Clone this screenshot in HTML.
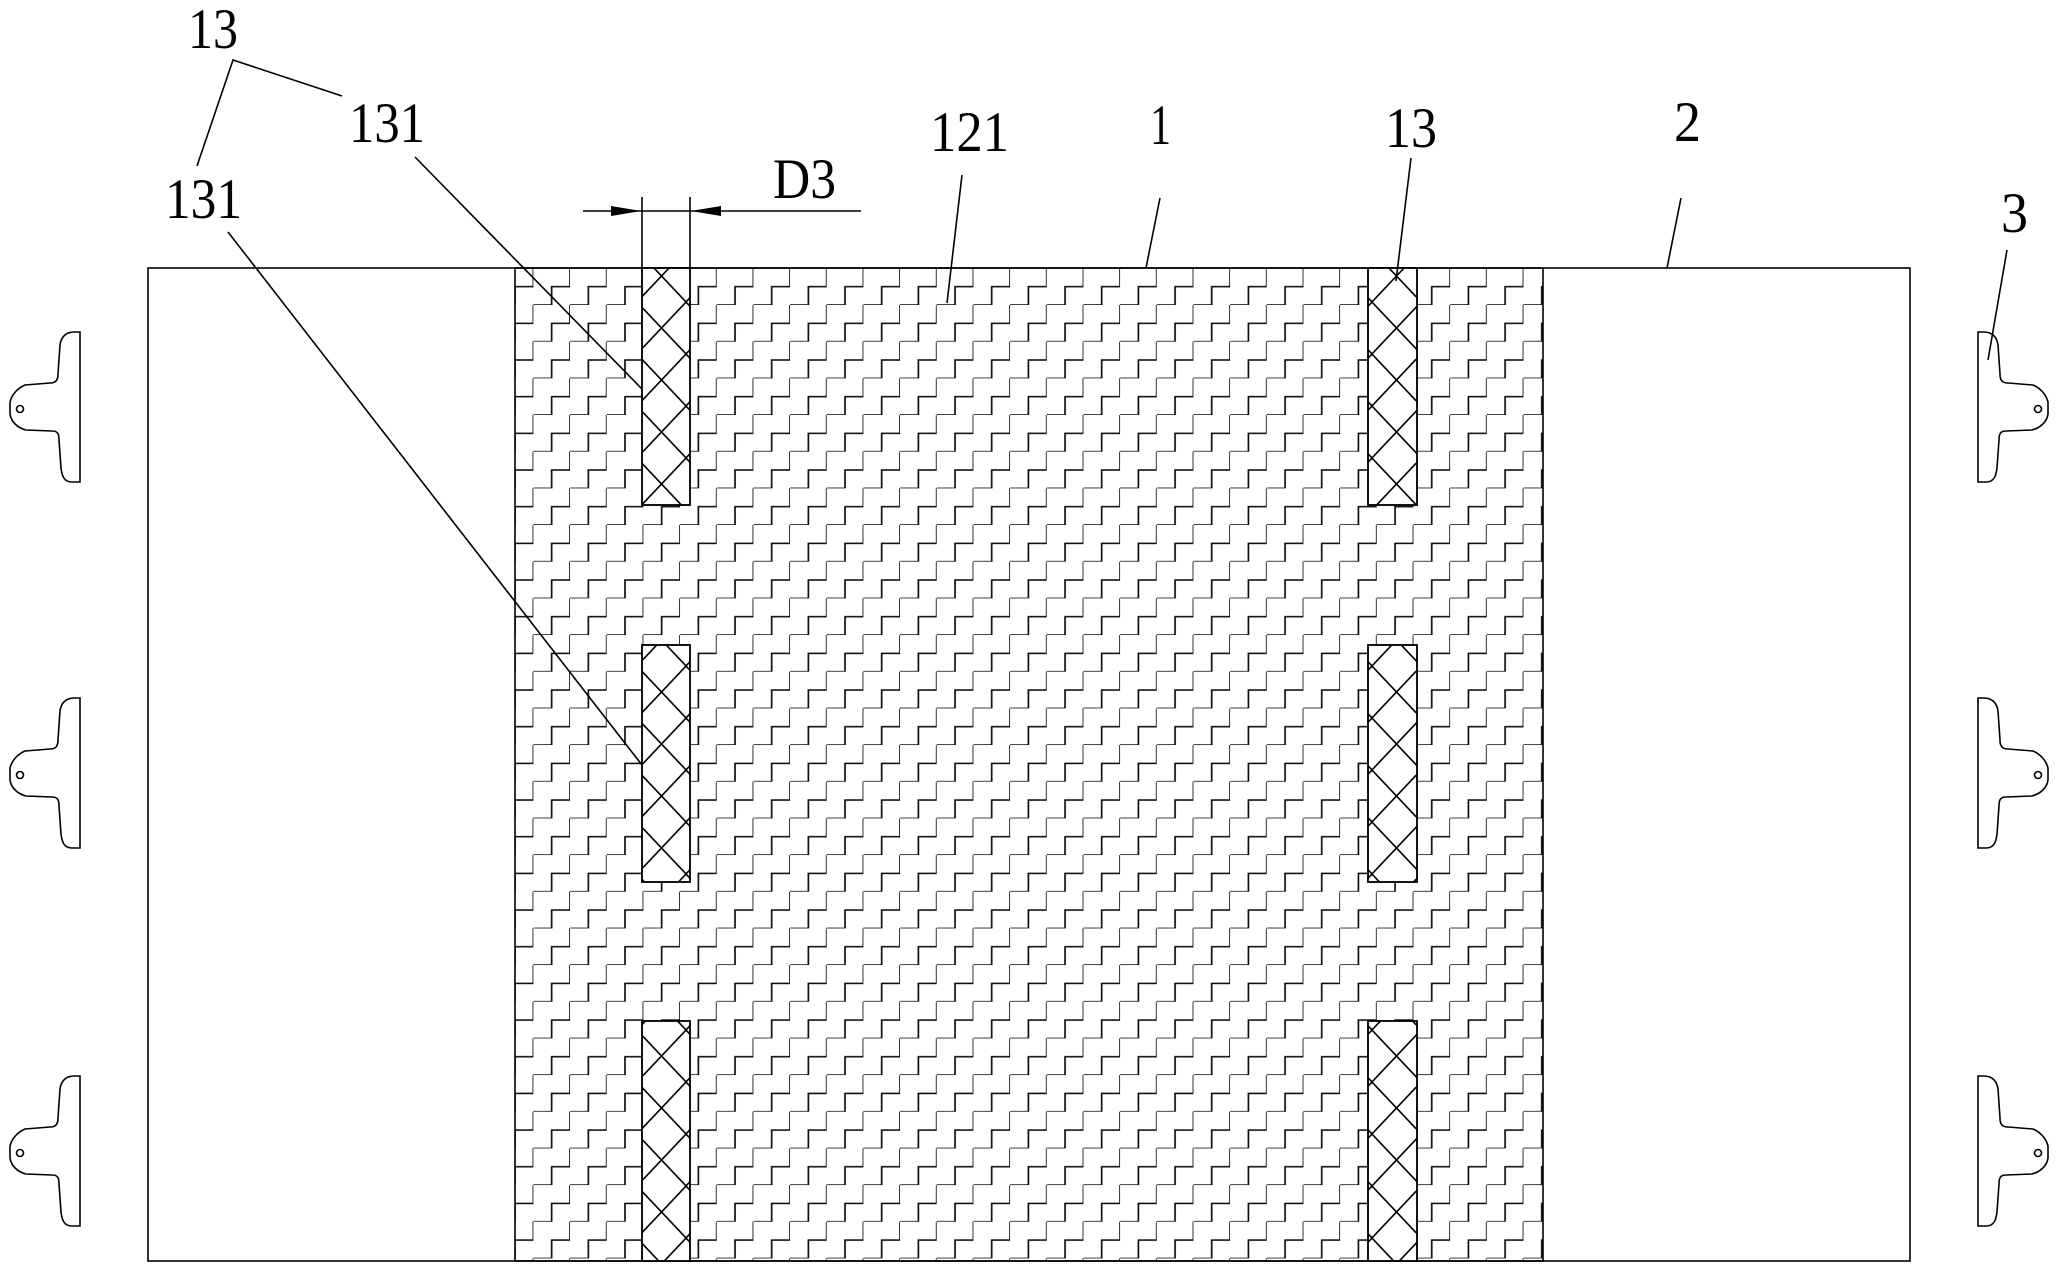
<!DOCTYPE html>
<html><head><meta charset="utf-8"><style>
html,body{margin:0;padding:0;background:#fff;}
svg{display:block;}
text{font-family:"Liberation Serif",serif;font-size:57px;fill:#000;}
</style></head><body>
<svg width="2062" height="1266" viewBox="0 0 2062 1266" xmlns="http://www.w3.org/2000/svg">
<defs>
<pattern id="st" patternUnits="userSpaceOnUse" x="496.67" y="268.33" width="36.67" height="36.67">
<path d="M0,36.67 H18.33 V18.33 H36.67 V0" fill="none" stroke="#000" stroke-width="1.6"/>
</pattern>
<pattern id="xh" patternUnits="userSpaceOnUse" x="0" y="250" width="49" height="52">
<path d="M-1,-1 L50,53 M50,-1 L-1,53" fill="none" stroke="#000" stroke-width="1.6"/>
</pattern>
<g id="clipL" fill="none" stroke="#000" stroke-width="1.6">
<path d="M80,332 L80,482 L72,482 C64,482 62,476 61,468 L59,440 C59,433 57,431 52,431 L26,430 C18,428 11,422 10,414 L10,402 C12,394 18,388 25,385 L50,383 C56,383 58,380 58,374 L60,345 C61,337 66,332 74,332 Z"/>
<circle cx="20" cy="409" r="3.5"/>
</g>
</defs>
<rect x="148" y="268" width="1762" height="993" fill="#fff" stroke="#000" stroke-width="1.6"/>
<rect x="515" y="268" width="1028" height="993" fill="url(#st)" stroke="#000" stroke-width="1.6"/>
<g stroke="#000" stroke-width="1.6">
<rect x="642" y="268" width="48" height="237" fill="#fff"/>
<rect x="642" y="268" width="48" height="237" fill="url(#xh)"/>
<rect x="642" y="645" width="48" height="237" fill="#fff"/>
<rect x="642" y="645" width="48" height="237" fill="url(#xh)"/>
<rect x="642" y="1021" width="48" height="240" fill="#fff"/>
<rect x="642" y="1021" width="48" height="240" fill="url(#xh)"/>
<rect x="1368" y="268" width="49" height="237" fill="#fff"/>
<rect x="1368" y="268" width="49" height="237" fill="url(#xh)"/>
<rect x="1368" y="645" width="49" height="237" fill="#fff"/>
<rect x="1368" y="645" width="49" height="237" fill="url(#xh)"/>
<rect x="1368" y="1021" width="49" height="240" fill="#fff"/>
<rect x="1368" y="1021" width="49" height="240" fill="url(#xh)"/>
</g>
<use href="#clipL"/>
<use href="#clipL" transform="translate(0,366)"/>
<use href="#clipL" transform="translate(0,744)"/>
<use href="#clipL" transform="translate(2058,0) scale(-1,1)"/>
<use href="#clipL" transform="translate(2058,366) scale(-1,1)"/>
<use href="#clipL" transform="translate(2058,744) scale(-1,1)"/>
<g stroke="#000" stroke-width="1.6" fill="none">
<path d="M197,166 L233,60 L342,96"/>
<path d="M415,157 L642,389"/>
<path d="M228,232 L642,765"/>
<path d="M962,175 L947,303"/>
<path d="M1160,198 L1146,268"/>
<path d="M1411,158 L1396,281"/>
<path d="M1681,198 L1667,268"/>
<path d="M2007,250 L1988,360"/>
<path d="M642,197 V268 M690,197 V268 M583,211 H861"/>
</g>
<path d="M611,206 L641,211 L611,216 Z M721,206 L691,211 L721,216 Z" fill="#000"/>
<text x="188" y="48" textLength="50" lengthAdjust="spacingAndGlyphs">13</text>
<text x="349" y="142" textLength="76" lengthAdjust="spacingAndGlyphs">131</text>
<text x="165" y="218" textLength="77" lengthAdjust="spacingAndGlyphs">131</text>
<text x="773" y="198" textLength="63" lengthAdjust="spacingAndGlyphs">D3</text>
<text x="930" y="151" textLength="79" lengthAdjust="spacingAndGlyphs">121</text>
<text x="1150" y="144" textLength="21" lengthAdjust="spacingAndGlyphs">1</text>
<text x="1385" y="147" textLength="52" lengthAdjust="spacingAndGlyphs">13</text>
<text x="1674" y="141" textLength="27" lengthAdjust="spacingAndGlyphs">2</text>
<text x="2001" y="232" textLength="27" lengthAdjust="spacingAndGlyphs">3</text>
</svg>
</body></html>
